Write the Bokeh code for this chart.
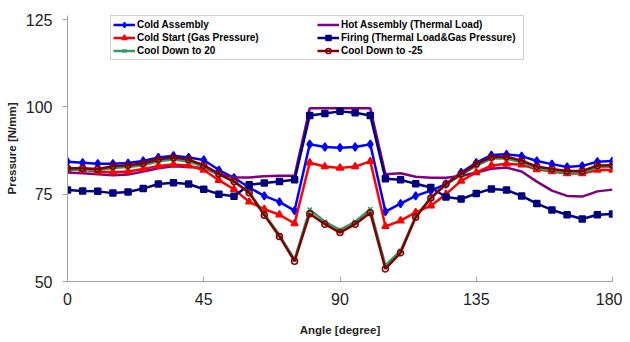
from bokeh.plotting import figure
from bokeh.models import Legend, LegendItem, FixedTicker, Range1d
from bokeh.embed import file_html
from bokeh.resources import INLINE

angle = list(range(0, 181, 5))

cold_assembly = [84.3, 84.0, 83.7, 83.7, 83.9, 84.5, 85.5, 86.0, 85.5, 84.8,
                 81.9, 79.7, 76.9, 74.5, 72.8, 70.3, 89.3, 88.5, 88.3, 88.5,
                 89.3, 70.0, 72.3, 74.5, 76.0, 77.9, 81.2, 84.0, 86.2, 86.4,
                 85.9, 84.5, 83.6, 82.8, 83.1, 84.3, 84.5]
hot_assembly = [81.2, 81.0, 80.7, 80.4, 80.6, 81.5, 82.4, 83.0, 82.8, 82.5,
                80.7, 79.8, 79.8, 80.1, 80.3, 80.3, 99.6, 99.6, 99.6, 99.6,
                99.6, 80.7, 81.0, 80.0, 79.7, 79.7, 80.2, 81.2, 82.3, 82.6,
                81.5, 78.6, 76.0, 74.5, 74.3, 75.8, 76.3]
cold_start = [82.0, 82.0, 81.5, 81.3, 81.5, 82.2, 83.1, 83.5, 83.2, 81.9,
              79.0, 76.4, 72.8, 70.7, 69.1, 66.6, 84.0, 82.9, 82.5, 82.9,
              84.4, 65.8, 67.4, 69.8, 71.7, 75.0, 78.8, 81.2, 83.2, 83.7,
              83.4, 82.1, 81.5, 80.9, 80.9, 81.9, 81.9]
firing = [76.2, 75.9, 75.8, 75.3, 75.6, 76.6, 77.9, 78.3, 77.9, 76.4,
          75.0, 74.4, 77.7, 78.2, 78.6, 79.1, 97.5, 98.1, 98.7, 98.3,
          97.5, 79.4, 79.1, 78.0, 76.9, 74.2, 73.6, 75.2, 76.5, 76.2,
          74.5, 72.3, 70.5, 69.1, 67.9, 69.1, 69.3]
cool_20 = [82.0, 82.0, 81.9, 82.5, 82.8, 83.3, 84.4, 84.9, 84.3, 82.9,
           80.6, 78.6, 75.6, 69.3, 63.3, 56.3, 70.6, 67.1, 64.8, 67.1,
           70.7, 54.6, 58.8, 68.7, 73.9, 77.7, 80.5, 83.1, 85.2, 85.2,
           84.1, 82.4, 81.7, 81.1, 81.2, 82.7, 82.8]
cool_m25 = [82.4, 82.4, 82.2, 83.0, 83.3, 83.8, 85.0, 85.5, 84.9, 83.3,
            80.8, 78.6, 75.4, 69.0, 62.9, 55.8, 69.4, 66.4, 64.0, 66.4,
            69.7, 53.6, 58.2, 68.4, 73.9, 77.9, 80.8, 83.6, 85.6, 85.7,
            84.6, 82.9, 82.2, 81.6, 81.6, 83.2, 83.3]

x_ticks = [0, 45, 90, 135, 180]
y_ticks = [50, 75, 100, 125]

# frame extends 4px above the 125 tick so the legend box is not clipped
p = figure(width=622, height=338, output_backend="svg", toolbar_location=None,
           x_range=Range1d(0, 180), y_range=Range1d(50, 125 + 4 * 75 / 262),
           min_border_left=67, min_border_right=10, min_border_top=15,
           min_border_bottom=57)
p.outline_line_color = None
p.xgrid.visible = False
p.ygrid.visible = False
p.background_fill_color = "white"

FONT = "Liberation Sans"
for ax in (p.xaxis[0], p.yaxis[0]):
    ax.axis_line_color = "#a0a0a0"
    ax.major_tick_line_color = "#a0a0a0"
    ax.minor_tick_line_color = None
    ax.major_label_text_font = FONT
    ax.major_label_text_font_size = "16px"
    ax.major_label_text_color = "#222222"
    ax.axis_label_text_font = FONT
    ax.axis_label_text_font_size = "11.5px"
    ax.axis_label_text_font_style = "bold"
    ax.axis_label_text_color = "#222222"

p.xaxis.ticker = FixedTicker(ticks=x_ticks)
p.yaxis.ticker = FixedTicker(ticks=y_ticks)
p.xaxis.major_tick_in = 5
p.xaxis.major_tick_out = 0
p.xaxis.major_label_standoff = 11
p.xaxis.axis_label = "Angle [degree]"
p.xaxis.axis_label_standoff = 16
p.yaxis.major_tick_in = 0
p.yaxis.major_tick_out = 5
p.yaxis.major_label_standoff = 10
p.yaxis.axis_label = "Pressure [N/mm]"
p.yaxis.axis_label_standoff = 5

LW = 2.5
series = [
    ("Cold Assembly", cold_assembly, "#0000ff", "diamond", 8, "#0000ff"),
    ("Hot Assembly (Thermal Load)", hot_assembly, "#800080", None, 0, None),
    ("Cold Start (Gas Pressure)", cold_start, "#ff0000", "triangle", 7, "#ff0000"),
    ("Firing (Thermal Load&Gas Pressure)", firing, "#000080", "square", 6, "#000080"),
    ("Cool Down to 20", cool_20, "#339966", "x", 6, None),
    ("Cool Down to -25", cool_m25, "#800000", "circle", 6, None),
]

items = {}
for name, ys, color, marker, size, fill in series:
    rs = [p.line(angle, ys, line_color=color, line_width=LW)]
    if marker is not None:
        rs.append(p.scatter(angle, ys, marker=marker, size=size,
                            line_color=color, fill_color=fill,
                            line_width=1.5))
    items[name] = LegendItem(label=name, renderers=rs)

# legend fills column by column: left column first, then right column
legend_order = ["Cold Assembly", "Cold Start (Gas Pressure)", "Cool Down to 20",
                "Hot Assembly (Thermal Load)", "Firing (Thermal Load&Gas Pressure)",
                "Cool Down to -25"]

legend = Legend(items=[items[n] for n in legend_order], ncols=2, location=(43, 221),
                label_text_font=FONT, label_text_font_size="10px",
                label_text_font_style="bold", label_text_color="black",
                glyph_width=22, glyph_height=13, label_height=13,
                label_width=180, label_standoff=2, spacing=0, padding=2,
                margin=0, border_line_color="#a0a0a0", border_line_width=1,
                background_fill_alpha=1)
p.add_layout(legend, "center")

open("out.html", "w").write(file_html(p, INLINE))
